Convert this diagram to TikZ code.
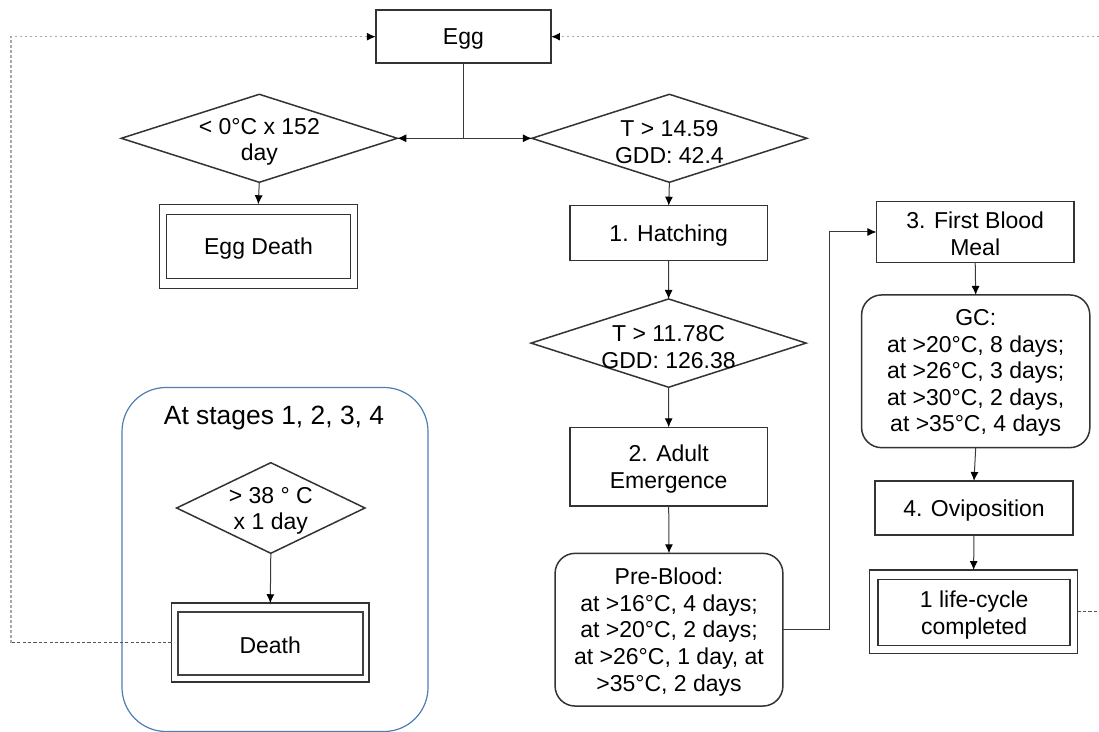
\documentclass[tikz,border=0pt]{standalone}
\usepackage{fontspec}
\setmainfont{Liberation Sans}
\usetikzlibrary{arrows.meta,shapes.geometric}
\definecolor{boxline}{HTML}{333333}
\definecolor{grpblue}{HTML}{4F7DB3}
\definecolor{lightdot}{HTML}{A8A8A8}
\definecolor{darkdash}{HTML}{555555}
\definecolor{lnk}{HTML}{3A3A3A}
\begin{document}
\begin{tikzpicture}[x=0.5pt,y=-0.5pt,
  every node/.style={font=\fontsize{11.5}{13.3}\selectfont, align=center, inner sep=0pt, outer sep=0pt},
  sz/.style 2 args={minimum width={#1*0.5pt}, minimum height={#2*0.5pt}},
  stagebox/.style={draw=boxline, line width=0.75pt, rectangle},
  roundbox/.style={draw=boxline, line width=0.75pt, rectangle, rounded corners=10pt},
  decision/.style={draw=boxline, line width=0.75pt, diamond},
  innerbox/.style={draw=boxline, line width=0.75pt, rectangle},
  txt/.style={},
  flow/.style={draw=lnk, line width=0.5pt, -{Latex[length=4.5pt,width=4pt,color=black]}},
  loopdot/.style={draw=lightdot, line width=0.8pt, dash pattern=on 1.2pt off 1.3pt},
  loopdash/.style={draw=darkdash, line width=0.45pt, dash pattern=on 1.6pt off 1.1pt},
  tipped/.style={-{Latex[length=4.5pt,width=4pt,color=black]}}
]
\useasboundingbox (0,0) rectangle (1099,732);

% group box
\node[draw=grpblue, line width=0.6pt, rounded corners=22pt, sz={306}{344}] (grp) at (275,559.5) {};
\node[font=\fontsize{13.2}{15}\selectfont] (grpt) at (274,418) {At stages 1, 2, 3, 4};

% Egg
\node[stagebox, sz={175}{53}] (egg) at (463.4,36.7) {};
\node (eggt) at (463.4,39) {Egg};

% first decisions
\node[decision, sz={276}{88}] (d0) at (259.3,138.3) {};
\node (d0t) at (259.3,142) {< 0°C x 152\\day};
\node[decision, sz={275}{88}] (d1) at (669.4,138.3) {};
\node (d1t) at (669.4,142) {T > 14.59\\GDD: 42.4};

% Egg death
\node[stagebox, sz={198}{84.4}] (eggdeath) at (258.3,246.5) {};
\node[innerbox, sz={183.6}{63.6}] (eggdeathin) at (258.5,246.5) {};
\node (eggdeatht) at (258.5,248.5) {Egg Death};

% left column
\node[stagebox, sz={197.5}{55}] (hatch) at (668.7,233.2) {};
\node (hatcht) at (668.7,235.5) {1. Hatching};
\node[decision, sz={275}{88.3}] (d2) at (668.6,343.1) {};
\node (d2t) at (668.6,347) {T > 11.78C\\GDD: 126.38};
\node[stagebox, sz={197.5}{78.7}] (adult) at (668.7,466.7) {};
\node (adultt) at (668.7,469) {2. Adult\\Emergence};
\node[roundbox, sz={227.8}{152.7}] (pre) at (669,629.7) {};
\node (pret) at (669,632) {Pre-Blood:\\at >16°C, 4 days;\\at >20°C, 2 days;\\at >26°C, 1 day, at\\>35°C, 2 days};

% right column
\node[stagebox, sz={197.5}{60.6}] (blood) at (975.2,232) {};
\node (bloodt) at (975.2,234) {3. First Blood\\Meal};
\node[roundbox, sz={228.2}{152.7}] (gc) at (975.7,371.3) {};
\node (gct) at (975.7,373) {GC:\\at >20°C, 8 days;\\at >26°C, 3 days;\\at >30°C, 2 days,\\at >35°C, 4 days};
\node[stagebox, sz={197.6}{54}] (ovi) at (974,508) {};
\node (ovit) at (974,510.5) {4. Oviposition};
\node[stagebox, sz={208}{83.3}] (life) at (973.6,611.7) {};
\node[innerbox, sz={192}{66}] (lifein) at (974.2,612.5) {};
\node (lifet) at (974.2,615) {1 life-cycle\\completed};

% high temperature death
\node[decision, sz={188.3}{90.6}] (d3) at (270.8,508) {};
\node (d3t) at (270.8,511) {> 38 ° C\\x 1 day};
\node[stagebox, sz={197.3}{78.7}] (death) at (270.3,642.6) {};
\node[innerbox, line width=1pt, draw=black!75, sz={185}{63.6}] (deathin) at (270.2,643.5) {};
\node (deatht) at (270.2,645.5) {Death};

% connectors
\draw[flow] (egg.south) |- (d0.east);
\draw[flow] (egg.south) |- (d1.west);
\draw[flow] (d0.south) -- (eggdeath.north);
\draw[flow] (d1.south) -- (hatch.north);
\draw[flow] (hatch.south) -- (d2.north);
\draw[flow] (d2.south) -- (adult.north);
\draw[flow] (adult.south) -- (pre.north);
\coordinate (bend) at (829.4,430);
\draw[flow] (pre.east) -| (bend) |- (blood.west);
\draw[flow] (blood.south) -- (gc.north);
\draw[flow] (gc.south) -- (ovi.north);
\draw[flow] (ovi.south) -- (life.north);
\draw[flow] (d3.south) -- (death.north);

% loop back lines
\coordinate (lcorner) at (11,642.6);
\coordinate (rlow) at (1099,611.7);
\coordinate (rtop) at (1099,36.7);
\draw[loopdash] (death.west) -- (lcorner);
\draw[loopdot, tipped] (lcorner) |- (egg.west);
\draw[loopdash] (life.east) -- (rlow);
\draw[loopdot, tipped] (rtop) -- (egg.east);
\end{tikzpicture}
\end{document}
